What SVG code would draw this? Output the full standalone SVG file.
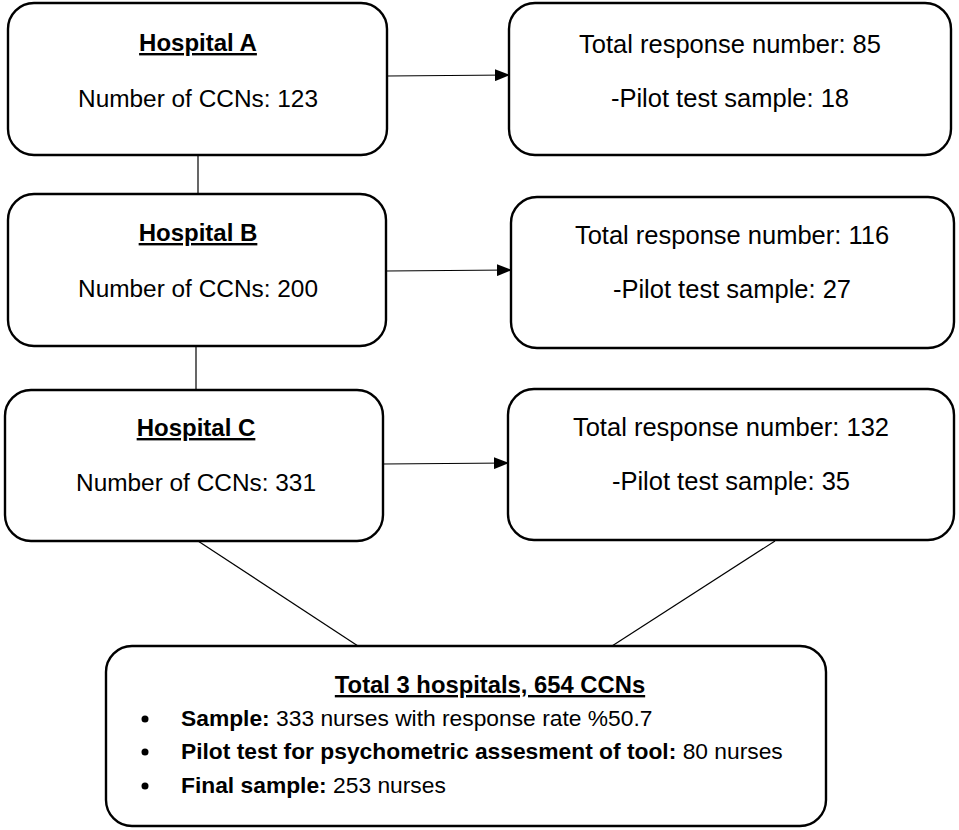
<svg xmlns="http://www.w3.org/2000/svg" width="959" height="830" viewBox="0 0 959 830">
<style>
.box{fill:#fff;stroke:#000;stroke-width:2.4}
.t{font-family:"Liberation Sans",Arial,sans-serif;font-size:24.4px;fill:#000;text-anchor:middle}
.r{font-size:25.5px}
.h{font-weight:bold;text-decoration:underline;font-size:24px}
.b{font-family:"Liberation Sans",Arial,sans-serif;font-size:22.8px;fill:#000}
.c{stroke:#000;stroke-width:1.2;fill:none}
</style>
<defs>
<marker id="ar" markerWidth="15" markerHeight="12" refX="15" refY="6" orient="auto" markerUnits="userSpaceOnUse" viewBox="0 0 15 12">
<path d="M0,0 L15,6 L0,12 z" fill="#000"/>
</marker>
</defs>
<g id="connectors">
<line class="c" x1="387" y1="76" x2="510" y2="75" marker-end="url(#ar)"/>
<line class="c" x1="386" y1="271" x2="512" y2="270" marker-end="url(#ar)"/>
<line class="c" x1="383" y1="464" x2="509" y2="463" marker-end="url(#ar)"/>
<line class="c" x1="198" y1="155" x2="198" y2="194"/>
<line class="c" x1="196" y1="346" x2="196" y2="390"/>
<line class="c" x1="198" y1="541" x2="358" y2="646"/>
<line class="c" x1="775" y1="541" x2="612" y2="646"/>
</g>
<g id="hospitalA">
<rect class="box" x="8" y="3" width="379" height="152" rx="26"/>
<text class="t h" x="198" y="51">Hospital A</text>
<text class="t" x="198" y="107">Number of CCNs: 123</text>
</g>
<g id="hospitalB">
<rect class="box" x="8" y="194" width="378" height="152" rx="26"/>
<text class="t h" x="198" y="241">Hospital B</text>
<text class="t" x="198" y="297">Number of CCNs: 200</text>
</g>
<g id="hospitalC">
<rect class="box" x="5" y="390" width="378" height="151" rx="26"/>
<text class="t h" x="196" y="436">Hospital C</text>
<text class="t" x="196" y="491">Number of CCNs: 331</text>
</g>
<g id="responseA">
<rect class="box" x="509" y="3" width="442" height="152" rx="26"/>
<text class="t r" x="730" y="53">Total response number: 85</text>
<text class="t r" x="730" y="107">-Pilot test sample: 18</text>
</g>
<g id="responseB">
<rect class="box" x="511" y="197" width="443" height="151" rx="26"/>
<text class="t r" x="732" y="244">Total response number: 116</text>
<text class="t r" x="732" y="298">-Pilot test sample: 27</text>
</g>
<g id="responseC">
<rect class="box" x="508" y="389" width="446" height="151" rx="26"/>
<text class="t r" x="731" y="436">Total response number: 132</text>
<text class="t r" x="731" y="490">-Pilot test sample: 35</text>
</g>
<g id="total">
<rect class="box" x="106" y="646" width="720" height="180" rx="26"/>
<text class="t h" x="490" y="693" style="font-size:23.8px">Total 3 hospitals, 654 CCNs</text>
<circle cx="145" cy="719" r="3.5" fill="#000"/>
<circle cx="145" cy="752" r="3.5" fill="#000"/>
<circle cx="145" cy="786" r="3.5" fill="#000"/>
<text class="b" x="181" y="726"><tspan font-weight="bold">Sample:</tspan> 333 nurses with response rate %50.7</text>
<text class="b" x="181" y="759"><tspan font-weight="bold">Pilot test for psychometric assesment of tool:</tspan> 80 nurses</text>
<text class="b" x="181" y="793"><tspan font-weight="bold">Final sample:</tspan> 253 nurses</text>
</g>
</svg>
